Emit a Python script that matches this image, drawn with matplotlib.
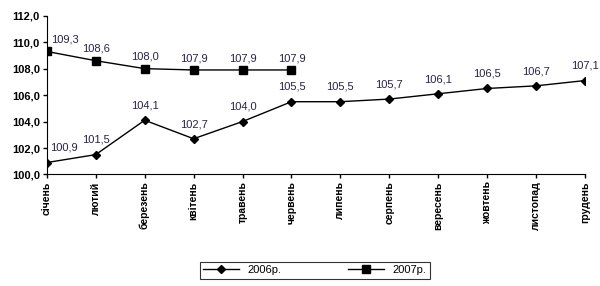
import matplotlib.pyplot as plt
from matplotlib.ticker import FuncFormatter

months = ['січень', 'лютий', 'березень', 'квітень', 'травень', 'червень',
          'липень', 'серпень', 'вересень', 'жовтень', 'листопад', 'грудень']
vals_2006 = [100.9, 101.5, 104.1, 102.7, 104.0, 105.5, 105.5, 105.7, 106.1, 106.5, 106.7, 107.1]
vals_2007 = [109.3, 108.6, 108.0, 107.9, 107.9, 107.9]
y_ticks = [100, 102, 104, 106, 108, 110, 112]

plt.rcParams['font.family'] = ['Liberation Sans', 'DejaVu Sans']

fig = plt.figure(figsize=(6.0, 2.86), dpi=100)
ax = fig.add_axes([0.078, 0.39, 0.897, 0.555])

x1 = list(range(len(vals_2006)))
x2 = list(range(len(vals_2007)))
l1, = ax.plot(x1, vals_2006, color='black', lw=1, marker='D', ms=4.5, label='2006р.')
l2, = ax.plot(x2, vals_2007, color='black', lw=1, marker='s', ms=5.5, label='2007р.')

lab_col = '#2a2050'
def fmt(v):
    return f'{v:.1f}'.replace('.', ',')

for i, v in enumerate(vals_2006):
    dx = 12 if i == 0 else 0
    ax.annotate(fmt(v), (i, v), xytext=(dx, 7), textcoords='offset points',
                ha='center', va='bottom', fontsize=8, color=lab_col)
for i, v in enumerate(vals_2007):
    dx = 13 if i == 0 else 0
    ax.annotate(fmt(v), (i, v), xytext=(dx, 5), textcoords='offset points',
                ha='center', va='bottom', fontsize=8, color=lab_col)

ax.set_xlim(0, 11)
ax.set_ylim(100, 112)
ax.set_yticks(y_ticks)
ax.yaxis.set_major_formatter(FuncFormatter(lambda v, p: fmt(v)))
ax.set_xticks(x1)
ax.set_xticklabels(months, rotation=90, fontsize=7.5, fontweight='bold')
for t in ax.get_yticklabels():
    t.set_fontweight('bold')
    t.set_fontsize(8)
ax.tick_params(direction='out', length=3, width=1, pad=2)
ax.spines['top'].set_visible(False)
ax.spines['right'].set_visible(False)

leg = fig.legend(handles=[l1, l2], loc='center', bbox_to_anchor=(0.525, 0.055),
                 ncol=2, fontsize=8, frameon=True, fancybox=False,
                 edgecolor='black', handlelength=3.2, columnspacing=6,
                 borderpad=0.3)
leg.get_frame().set_linewidth(0.8)

fig.savefig('out.png', dpi=100)
